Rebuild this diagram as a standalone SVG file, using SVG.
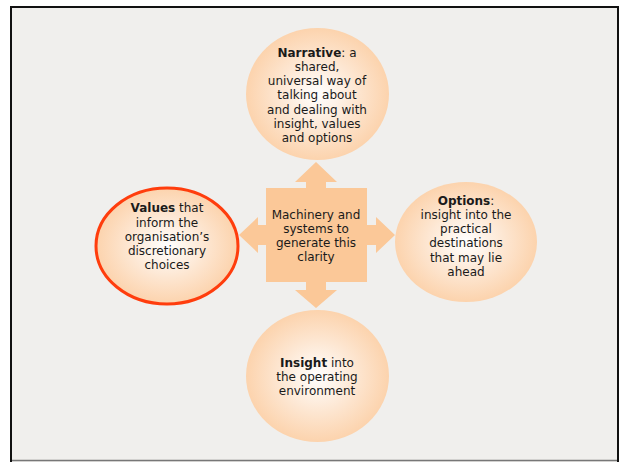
<svg xmlns="http://www.w3.org/2000/svg" width="624" height="462" viewBox="0 0 624 462">
  <defs>
    <radialGradient id="glow" cx="50%" cy="50%" r="50%">
      <stop offset="0" stop-color="#ffffff"/>
      <stop offset="0.55" stop-color="#fde6d1"/>
      <stop offset="1" stop-color="#fcd3ad"/>
    </radialGradient>
    <style>
      .bubble { fill: url(#glow); }
      .hub { fill: #fbc898; }
      .label { font-family: "DejaVu Sans", Verdana, sans-serif; font-size: 12px; fill: #1a1a1a; text-anchor: middle; }
      .label tspan.b { font-weight: bold; }
    </style>
  </defs>

  <!-- page frame -->
  <rect x="0" y="0" width="624" height="462" fill="#ffffff"/>
  <rect x="11" y="7" width="607" height="460" fill="#f0efed" stroke="#111111" stroke-width="2"/>
  <line x1="12" y1="460.5" x2="617" y2="460.5" stroke="#777777" stroke-width="1.5"/>

  <!-- connectors: arrows from the hub -->
  <g id="connectors" class="hub">
    <polygon points="316,162 337,182 326,182 326,189 306,189 306,182 295,182"/>
    <polygon points="239,235 258,217 258,225 267,225 267,245 258,245 258,253"/>
    <polygon points="395,235 376,217 376,225 366,225 366,245 376,245 376,253"/>
    <polygon points="316,308 337,290 326,290 326,281 306,281 306,290 295,290"/>
  </g>

  <g id="hub">
    <rect class="hub" x="266" y="188" width="101" height="94"/>
    <text class="label" x="316" y="219">Machinery and</text>
    <text class="label" x="316" y="233">systems to</text>
    <text class="label" x="316" y="247">generate this</text>
    <text class="label" x="316" y="261">clarity</text>
  </g>

  <g id="narrative">
    <ellipse class="bubble" cx="317.5" cy="94" rx="71.5" ry="66"/>
    <text class="label" x="317" y="57"><tspan class="b">Narrative</tspan>: a</text>
    <text class="label" x="317" y="71">shared,</text>
    <text class="label" x="317" y="85">universal way of</text>
    <text class="label" x="317" y="99">talking about</text>
    <text class="label" x="317" y="114">and dealing with</text>
    <text class="label" x="317" y="128">insight, values</text>
    <text class="label" x="317" y="142">and options</text>
  </g>

  <g id="values">
    <ellipse class="bubble" cx="167" cy="246" rx="71" ry="58" stroke="#ff3d0d" stroke-width="3"/>
    <text class="label" x="167" y="212"><tspan class="b">Values</tspan> that</text>
    <text class="label" x="167" y="227">inform the</text>
    <text class="label" x="167" y="241">organisation’s</text>
    <text class="label" x="167" y="255">discretionary</text>
    <text class="label" x="167" y="269">choices</text>
  </g>

  <g id="options">
    <ellipse class="bubble" cx="466" cy="242" rx="71" ry="60"/>
    <text class="label" x="466" y="205"><tspan class="b">Options</tspan>:</text>
    <text class="label" x="466" y="219">insight into the</text>
    <text class="label" x="466" y="233">practical</text>
    <text class="label" x="466" y="247">destinations</text>
    <text class="label" x="466" y="262">that may lie</text>
    <text class="label" x="466" y="276">ahead</text>
  </g>

  <g id="insight">
    <ellipse class="bubble" cx="317.5" cy="376" rx="71.5" ry="66"/>
    <text class="label" x="317" y="367"><tspan class="b">Insight</tspan> into</text>
    <text class="label" x="317" y="381">the operating</text>
    <text class="label" x="317" y="395">environment</text>
  </g>
</svg>
